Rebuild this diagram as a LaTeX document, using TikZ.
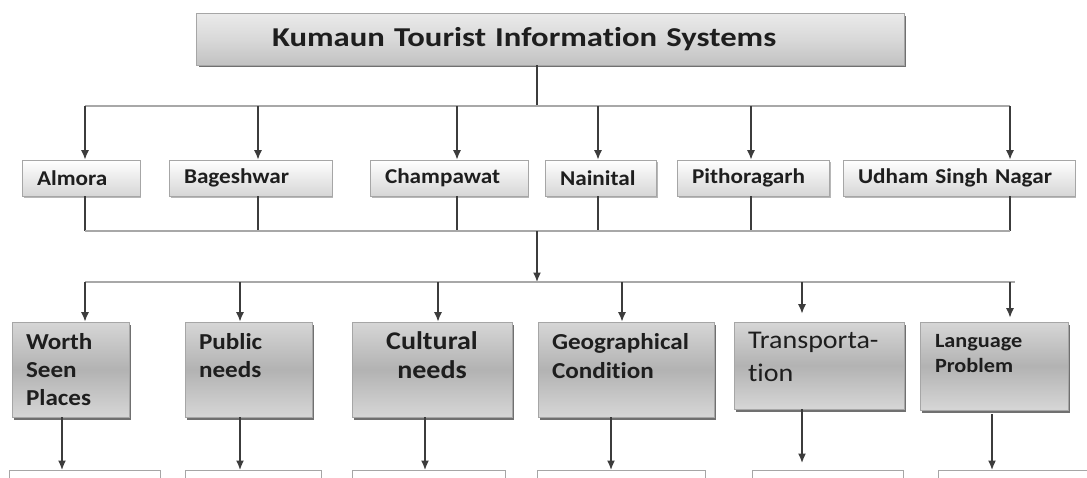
\documentclass[tikz,border=0pt]{standalone}
\usepackage{fontspec}
\setmainfont{Carlito}[FakeStretch=1.1, Ligatures=NoCommon]
\newfontfamily\titlefont{Carlito}[FakeStretch=1.2, Ligatures=NoCommon]
\usepackage{tikz}
\usetikzlibrary{arrows.meta, positioning, shadows}

\definecolor{boxline}{HTML}{A6A6A6}
\definecolor{txt}{HTML}{1E1E1E}
\definecolor{busgray}{HTML}{A8A8A8}
\definecolor{linkgray}{HTML}{3C3C3C}

\begin{document}
\begin{tikzpicture}[
    x=0.02cm, y=-0.02cm,
    >={Latex[length=1.9mm,width=1.6mm]},
    topbox/.style={rectangle, draw=boxline, top color=black!8, bottom color=black!24, middle color=black!15,
        drop shadow={shadow xshift=0.05cm, shadow yshift=-0.05cm, fill=black!70, opacity=0.8},
        minimum height=1.04cm, align=left, text=txt, font=\titlefont\bfseries\fontsize{15.5}{18}\selectfont},
    distbox/.style={rectangle, draw=boxline, top color=white, bottom color=black!16,
        drop shadow={shadow xshift=0.03cm, shadow yshift=-0.03cm, fill=black!40, opacity=0.7},
        minimum height=0.72cm, inner xsep=0.3cm, align=left, text=txt, font=\bfseries\fontsize{12}{14}\selectfont},
    catbox/.style={rectangle, draw=boxline, top color=black!16, bottom color=black!16, middle color=black!30,
        drop shadow={shadow xshift=0.04cm, shadow yshift=-0.05cm, fill=black!70, opacity=0.8}},
    cattext/.style={inner sep=0pt, align=left, text=txt, font=\bfseries\fontsize{13}{16}\selectfont},
    lowbox/.style={rectangle, draw=boxline, fill=white, minimum height=1.2cm, anchor=north},
    bus/.style={draw=busgray, line width=1.6pt},
    link/.style={draw=linkgray, line width=0.8pt},
    arr/.style={link, ->}
]
    \useasboundingbox (0,0) rectangle (1087,477);
    \clip (0,0) rectangle (1087,477);

    % Title
    \node [topbox, text width=11.12cm, inner xsep=1.52cm] (title) at (550,39) {Kumaun Tourist Information Systems};

    % Districts
    \node [distbox, text width=1.76cm] (almora) at (81,178) {Almora};
    \node [distbox, text width=2.66cm] (bageshwar) at (250.5,178) {Bageshwar};
    \node [distbox, text width=2.56cm] (champawat) at (449,178) {Champawat};
    \node [distbox, text width=1.62cm] (nainital) at (600.5,178) {Nainital};
    \node [distbox, text width=2.44cm] (pithoragarh) at (753,178) {Pithoragarh};
    \node [distbox, text width=4.04cm] (udham) at (959,178) {Udham Singh Nagar};

    % Information categories
    \node [catbox, minimum width=2.34cm, minimum height=1.9cm] (worth) at (70.5,369.5) {};
    \node [catbox, minimum width=2.54cm, minimum height=1.9cm] (public) at (248.5,369.5) {};
    \node [catbox, minimum width=3.2cm, minimum height=1.9cm] (cultural) at (432,369.5) {};
    \node [catbox, minimum width=3.52cm, minimum height=1.9cm] (geo) at (626,369.5) {};
    \node [catbox, minimum width=3.4cm, minimum height=1.74cm] (transport) at (819,365.5) {};
    \node [catbox, minimum width=2.96cm, minimum height=1.76cm] (language) at (994,366) {};

    \node [cattext, below right=0.22cm and 0.28cm of worth.north west] (worthtxt) {Worth\\Seen\\Places};
    \node [cattext, below right=0.22cm and 0.28cm of public.north west] (publictxt) {Public\\needs};
    \node [cattext, align=center, font=\bfseries\fontsize{14.5}{16}\selectfont, below=0.2cm of cultural.north] (culturaltxt) {Cultural\\needs};
    \node [cattext, font=\bfseries\fontsize{13}{17}\selectfont, below right=0.22cm and 0.28cm of geo.north west] (geotxt) {Geographical\\Condition};
    \node [cattext, font=\mdseries\fontsize{14.5}{19}\selectfont, below right=0.2cm and 0.28cm of transport.north west] (transporttxt) {Transporta-\\tion};
    \node [cattext, font=\bfseries\fontsize{11.5}{14.5}\selectfont, below right=0.24cm and 0.3cm of language.north west] (languagetxt) {Language\\Problem};

    % Next level (cut off at the page edge)
    \node [lowbox, minimum width=3.02cm] (low1) at (84.5,470) {};
    \node [lowbox, minimum width=2.72cm] (low2) at (253,470) {};
    \node [lowbox, minimum width=3.06cm] (low3) at (428.5,470) {};
    \node [lowbox, minimum width=3.36cm] (low4) at (621,470) {};
    \node [lowbox, minimum width=3.02cm] (low5) at (827.5,470) {};
    \node [lowbox, minimum width=3.24cm] (low6) at (1019,470) {};

    % Title to districts
    \coordinate (top) at (537,106);
    \coordinate (ta) at (85,106);
    \coordinate (tb) at (258,106);
    \coordinate (tc) at (457,106);
    \coordinate (td) at (598,106);
    \coordinate (te) at (751,106);
    \coordinate (tf) at (1010,106);
    \draw [link] (top |- title.south) -- (top);
    \draw [bus] (ta) -- (tf);
    \draw [arr] (ta) -- (ta |- almora.north);
    \draw [arr] (tb) -- (tb |- bageshwar.north);
    \draw [arr] (tc) -- (tc |- champawat.north);
    \draw [arr] (td) -- (td |- nainital.north);
    \draw [arr] (te) -- (te |- pithoragarh.north);
    \draw [arr] (tf) -- (tf |- udham.north);

    % Districts joined again
    \coordinate (ma) at (85,231);
    \coordinate (mf) at (1010,231);
    \coordinate (mid) at (537,231);
    \draw [link] (ta |- almora.south) -- (ta |- ma);
    \draw [link] (tb |- bageshwar.south) -- (tb |- ma);
    \draw [link] (tc |- champawat.south) -- (tc |- ma);
    \draw [link] (td |- nainital.south) -- (td |- ma);
    \draw [link] (te |- pithoragarh.south) -- (te |- ma);
    \draw [link] (tf |- udham.south) -- (mf);
    \draw [bus] (ma) -- (mf);

    % Down to the categories
    \coordinate (jn) at (537,282);
    \coordinate (ca) at (85,282);
    \coordinate (cb) at (240,282);
    \coordinate (cc) at (438,282);
    \coordinate (cd) at (622,282);
    \coordinate (ce) at (802,282);
    \coordinate (cf) at (1010,282);
    \coordinate (cend) at (1015,282);
    \draw [arr] (mid) -- (jn);
    \draw [bus] (ca) -- (cend);
    \draw [arr] (ca) -- (ca |- worth.north);
    \draw [arr] (cb) -- (cb |- public.north);
    \draw [arr] (cc) -- (cc |- cultural.north);
    \draw [arr] (cd) -- (cd |- geo.north);
    \draw [arr, shorten >=0.16cm] (ce) -- (ce |- transport.north);
    \draw [arr, shorten >=0.08cm] (cf) -- (cf |- language.north);

    % Categories to next level
    \coordinate (ba) at (62,470);
    \coordinate (bb) at (240,470);
    \coordinate (bc) at (425,470);
    \coordinate (bd) at (611,470);
    \coordinate (be) at (802,470);
    \coordinate (bf) at (992,470);
    \draw [arr] (ba |- worth.south) -- (ba |- low1.north);
    \draw [arr] (bb |- public.south) -- (bb |- low2.north);
    \draw [arr] (bc |- cultural.south) -- (bc |- low3.north);
    \draw [arr] (bd |- geo.south) -- (bd |- low4.north);
    \draw [arr, shorten >=0.14cm] (be |- transport.south) -- (be |- low5.north);
    \draw [arr, shorten <=0.08cm] (bf |- language.south) -- (bf |- low6.north);
\end{tikzpicture}
\end{document}
